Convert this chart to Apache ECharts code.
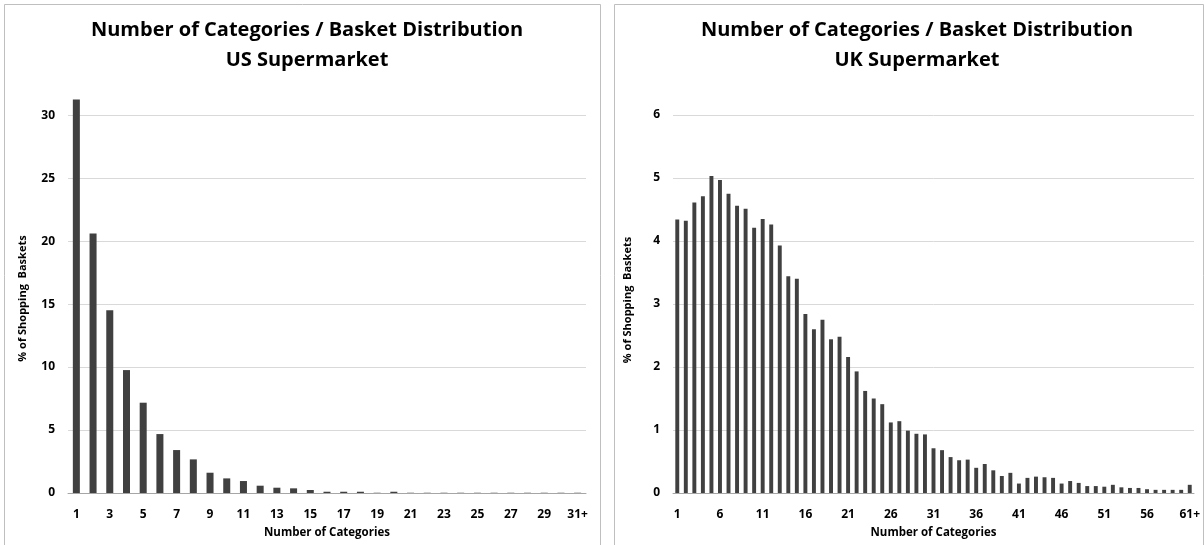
<!DOCTYPE html>
<html><head><meta charset="utf-8">
<script src="https://cdn.jsdelivr.net/npm/echarts@6/dist/echarts.min.js"></script>
<style>html,body{margin:0;padding:0;background:#fff}#c{width:1204px;height:545px}</style>
</head><body><div id="c"></div>
<script>
const usCategories = ['1','2','3','4','5','6','7','8','9','10','11','12','13','14','15','16','17','18','19','20','21','22','23','24','25','26','27','28','29','30','31+'];
const usValues = [31.25,20.6,14.52,9.76,7.17,4.68,3.41,2.67,1.61,1.16,0.95,0.58,0.42,0.37,0.24,0.1,0.1,0.1,0.02,0.1,0.02,0.02,0.02,0.02,0.02,0.02,0.02,0.02,0.02,0.02,0.02];
const ukCategories = ['1','2','3','4','5','6','7','8','9','10','11','12','13','14','15','16','17','18','19','20','21','22','23','24','25','26','27','28','29','30','31','32','33','34','35','36','37','38','39','40','41','42','43','44','45','46','47','48','49','50','51','52','53','54','55','56','57','58','59','60','61+'];
const ukValues = [4.34,4.32,4.61,4.71,5.03,4.97,4.75,4.56,4.51,4.21,4.35,4.26,3.93,3.44,3.40,2.84,2.60,2.75,2.44,2.48,2.16,1.93,1.62,1.50,1.41,1.12,1.14,0.99,0.94,0.93,0.71,0.68,0.57,0.52,0.53,0.40,0.46,0.36,0.27,0.32,0.15,0.24,0.26,0.25,0.24,0.15,0.19,0.16,0.11,0.11,0.10,0.13,0.09,0.08,0.08,0.06,0.05,0.05,0.05,0.05,0.13];
const usTitle = 'Number of Categories / Basket Distribution\nUS Supermarket';
const ukTitle = 'Number of Categories / Basket Distribution\nUK Supermarket';
const yName = '% of Shopping  Baskets';
const xName = 'Number of Categories';

const FONT = 'Open Sans';
const barColor = '#404040';
const chart = echarts.init(document.getElementById('c'), null, {renderer: 'canvas'});

function xAxisCfg(grid, cats, interval) {
  return {
    type: 'category', gridIndex: grid, data: cats,
    axisTick: {show: false},
    axisLine: {lineStyle: {color: '#a6a6a6', width: 1}},
    axisLabel: {interval: interval, color: '#000', fontFamily: FONT, fontWeight: 'bold', fontSize: 12, margin: 16},
    name: xName, nameLocation: 'middle', nameGap: 34,
    nameTextStyle: {color: '#000', fontFamily: FONT, fontWeight: 'bold', fontSize: 11.5}
  };
}
function yAxisCfg(grid, max, interval, pad) {
  return {
    type: 'value', gridIndex: grid, min: 0, max: max, interval: interval,
    axisLine: {show: false}, axisTick: {show: false},
    axisLabel: {color: '#000', fontFamily: FONT, fontWeight: 'bold', fontSize: 12, margin: 13, showMaxLabel: max % interval === 0},
    splitLine: {lineStyle: {color: '#d9d9d9', width: 1}, showMaxLine: max % interval === 0},
    name: yName, nameLocation: 'middle', nameGap: 40,
    nameTextStyle: {color: '#000', fontFamily: FONT, fontWeight: 'bold', fontSize: 11, padding: pad}
  };
}

const option = {
  backgroundColor: '#fff',
  animation: false,
  graphic: [
    {type: 'rect', shape: {x: 4.5, y: 4.5, width: 596, height: 560}, style: {fill: 'none', stroke: '#bfbfbf', lineWidth: 1}, silent: true},
    {type: 'rect', shape: {x: 614.5, y: 4.5, width: 589, height: 560}, style: {fill: 'none', stroke: '#bfbfbf', lineWidth: 1}, silent: true}
  ],
  title: [
    {text: usTitle, left: 302, top: 10, textAlign: 'center',
     textStyle: {fontFamily: FONT, fontWeight: 'bold', fontSize: 20, lineHeight: 30, color: '#000'}},
    {text: ukTitle, left: 912, top: 10, textAlign: 'center',
     textStyle: {fontFamily: FONT, fontWeight: 'bold', fontSize: 20, lineHeight: 30, color: '#000'}}
  ],
  grid: [
    {left: 68, width: 518, top: 90, height: 403},
    {left: 673, width: 521, top: 115, height: 378}
  ],
  xAxis: [xAxisCfg(0, usCategories, 1), xAxisCfg(1, ukCategories, 4)],
  yAxis: [yAxisCfg(0, 32, 5, [0, 14, 0, 0]), yAxisCfg(1, 6, 1, [0, 0, 0, 8])],
  series: [
    {type: 'bar', xAxisIndex: 0, yAxisIndex: 0, data: usValues, barWidth: '42%', itemStyle: {color: barColor}},
    {type: 'bar', xAxisIndex: 1, yAxisIndex: 1, data: ukValues, barWidth: '46%', itemStyle: {color: barColor}}
  ]
};
chart.setOption(option);
</script>
</body></html>
